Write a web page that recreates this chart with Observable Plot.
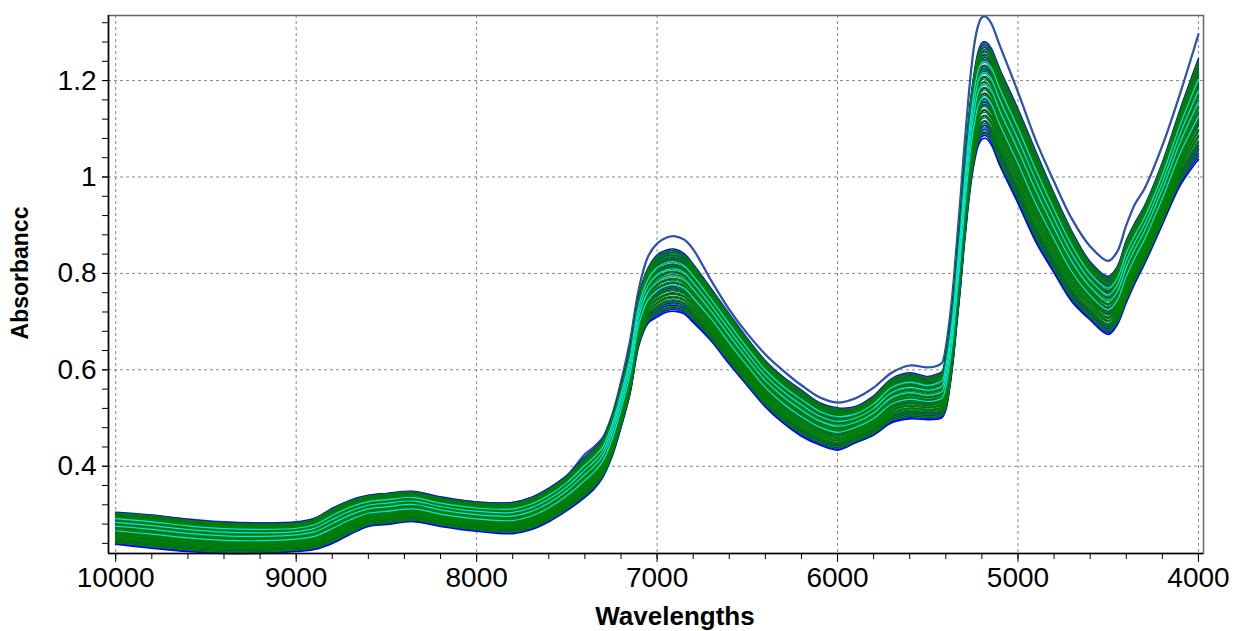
<!DOCTYPE html>
<html>
<head>
<meta charset="utf-8">
<script src="https://cdn.jsdelivr.net/npm/d3@7"></script>
<script src="https://cdn.jsdelivr.net/npm/@observablehq/plot@0.6"></script>
<style>
  html, body { margin: 0; padding: 0; background: #fff; }
  svg { display: block; }
</style>
</head>
<body>
<div id="chart"></div>
<script>
// Wavenumber grid (cm-1)
const wavenumbers = [10000, 9800, 9600, 9400, 9200, 9000, 8900, 8800, 8700, 8600, 8500, 8350, 8200, 8000, 7800, 7700, 7600, 7500, 7400, 7350, 7300, 7250, 7200, 7150, 7100, 7050, 7000, 6950, 6900, 6850, 6800, 6700, 6600, 6500, 6400, 6300, 6200, 6100, 6000, 5900, 5800, 5700, 5600, 5500, 5450, 5420, 5400, 5380, 5360, 5340, 5320, 5300, 5280, 5260, 5240, 5220, 5200, 5180, 5150, 5100, 5000, 4900, 4800, 4700, 4600, 4500, 4450, 4400, 4350, 4300, 4200, 4100, 4000];
// Centre of the bundle of spectra at each wavenumber
const meanAbs = [0.272, 0.265, 0.257, 0.252, 0.251, 0.254, 0.260, 0.277, 0.295, 0.308, 0.312, 0.317, 0.306, 0.296, 0.293, 0.302, 0.320, 0.345, 0.378, 0.395, 0.418, 0.462, 0.525, 0.598, 0.705, 0.755, 0.775, 0.785, 0.787, 0.780, 0.760, 0.715, 0.665, 0.617, 0.572, 0.538, 0.511, 0.489, 0.478, 0.487, 0.506, 0.537, 0.547, 0.542, 0.545, 0.550, 0.575, 0.620, 0.680, 0.760, 0.840, 0.930, 1.010, 1.080, 1.130, 1.165, 1.180, 1.182, 1.170, 1.125, 1.045, 0.960, 0.885, 0.815, 0.765, 0.735, 0.755, 0.805, 0.845, 0.880, 0.967, 1.064, 1.143];
// Half-width of the bundle at each wavenumber
const spreadAbs = [0.032, 0.033, 0.032, 0.031, 0.030, 0.029, 0.031, 0.035, 0.034, 0.031, 0.031, 0.030, 0.029, 0.029, 0.031, 0.032, 0.033, 0.035, 0.040, 0.040, 0.038, 0.040, 0.042, 0.045, 0.050, 0.055, 0.062, 0.062, 0.062, 0.060, 0.058, 0.052, 0.050, 0.047, 0.046, 0.046, 0.046, 0.042, 0.042, 0.036, 0.039, 0.044, 0.046, 0.043, 0.045, 0.046, 0.055, 0.058, 0.060, 0.065, 0.070, 0.075, 0.080, 0.086, 0.090, 0.094, 0.096, 0.096, 0.096, 0.096, 0.094, 0.090, 0.079, 0.070, 0.058, 0.058, 0.058, 0.062, 0.060, 0.058, 0.062, 0.076, 0.100];
// The one spectrum that sits clearly above the bundle (drawn as a blue/green pair)
const outlierAbs = [0.302, 0.297, 0.290, 0.284, 0.282, 0.284, 0.291, 0.310, 0.328, 0.338, 0.342, 0.347, 0.336, 0.325, 0.324, 0.334, 0.354, 0.380, 0.425, 0.440, 0.460, 0.505, 0.575, 0.660, 0.770, 0.835, 0.862, 0.874, 0.877, 0.870, 0.850, 0.785, 0.725, 0.675, 0.632, 0.598, 0.568, 0.543, 0.532, 0.541, 0.563, 0.594, 0.609, 0.605, 0.608, 0.615, 0.647, 0.700, 0.770, 0.860, 0.950, 1.050, 1.140, 1.220, 1.280, 1.315, 1.331, 1.333, 1.320, 1.272, 1.176, 1.075, 0.990, 0.912, 0.856, 0.826, 0.845, 0.900, 0.945, 0.975, 1.065, 1.175, 1.296];
// Position of each sample inside the bundle (read at the peaks), by colour group
const blueScores = [1.02, 0.96, 0.9, 0.82, 0.74, 0.62, 0.5, 0.38, 0.26, 0.14, 0.02, -0.1, -0.22, -0.34, -0.46, -0.58, -0.7, -0.78, -0.86, -0.94, -1.0, -1.06, 0.44, -0.28, 0.68];
const greenScores = [0.98, 0.92, 0.86, 0.8, 0.76, 0.7, 0.64, 0.58, 0.52, 0.46, 0.4, 0.34, 0.28, 0.22, 0.16, 0.1, 0.04, -0.02, -0.08, -0.14, -0.2, -0.26, -0.32, -0.38, -0.44, -0.5, -0.56, -0.62, -0.68, -0.74, -0.82, -0.9, -0.97];
const cyanScores = [0.6, 0.36, 0.12, -0.18];

const groups = [
  {name: "blue", color: "#0000ff", scores: blueScores, width: 1.6},
  {name: "green", color: "#008000", scores: greenScores, width: 1.3},
  {name: "cyan", color: "#00e5e5", scores: cyanScores, width: 1.2}
];

const xMajor = [10000, 9000, 8000, 7000, 6000, 5000, 4000];
const xMinor = d3.range(10000, 3999, -200);
const yMajor = [0.4, 0.6, 0.8, 1.0, 1.2];
const yMinor = [0.24, 0.28, 0.32, 0.36, 0.40, 0.44, 0.48, 0.52, 0.56, 0.60, 0.64, 0.68, 0.72, 0.76, 0.80, 0.84, 0.88, 0.92, 0.96, 1.00, 1.04, 1.08, 1.12, 1.16, 1.20, 1.24, 1.28, 1.32];

const xDomain = [10040, 3972];
const yDomain = [0.219, 1.335];

const lineMarks = groups.map(g => {
  const rows = [];
  g.scores.forEach((s, k) => {
    wavenumbers.forEach((w, i) => {
      rows.push({id: g.name + k, w, a: meanAbs[i] + s * spreadAbs[i]});
    });
  });
  return Plot.line(rows, {x: "w", y: "a", z: "id", stroke: g.color, strokeWidth: g.width, curve: "catmull-rom"});
});
const outlierRows = wavenumbers.map((w, i) => ({w, a: outlierAbs[i]}));

const font = "'Liberation Sans', Arial, sans-serif";
const fmt = d => String(+d.toFixed(2));

const plot = Plot.plot({
  width: 1234,
  height: 631,
  marginLeft: 108,
  marginRight: 31,
  marginTop: 15,
  marginBottom: 78,
  style: {fontFamily: font, background: "#fff", color: "#000"},
  x: {domain: xDomain},
  y: {domain: yDomain},
  marks: [
    Plot.gridX(xMajor, {stroke: "#888", strokeOpacity: 1, strokeDasharray: "3,3"}),
    Plot.gridY(yMajor, {stroke: "#888", strokeOpacity: 1, strokeDasharray: "3,3"}),
    Plot.line(outlierRows, {x: "w", y: "a", stroke: "#3030ff", strokeWidth: 2.2, curve: "catmull-rom"}),
    Plot.line(outlierRows, {x: "w", y: "a", stroke: "#1a8a1a", strokeWidth: 0.8, curve: "catmull-rom"}),
    ...lineMarks,
    Plot.frame({stroke: "#666", strokeWidth: 1.5}),
    Plot.ruleX([xDomain[0]], {stroke: "#000", strokeWidth: 1.5}),
    Plot.ruleY([yDomain[0]], {stroke: "#000", strokeWidth: 1.5}),
    Plot.axisX(xMinor, {tickSize: 6, text: null, label: null, stroke: "#000"}),
    Plot.axisX(xMajor, {tickSize: 9, tickPadding: 5, label: null, fontSize: 28, tickFormat: d => String(d), stroke: "#000"}),
    Plot.axisY(yMinor, {tickSize: 6, text: null, label: null, stroke: "#000"}),
    Plot.axisY(yMajor, {tickSize: 6, tickPadding: 6, label: null, fontSize: 28, tickFormat: fmt, stroke: "#000"})
  ]
});

const svg = d3.select(plot);
svg.append("text")
  .attr("transform", "translate(28,273) rotate(-90)")
  .attr("text-anchor", "middle")
  .attr("font-family", font)
  .attr("font-weight", "bold")
  .attr("font-size", 23)
  .attr("fill", "#000")
  .text("Absorbancc");
svg.append("text")
  .attr("x", 675)
  .attr("y", 625)
  .attr("text-anchor", "middle")
  .attr("font-family", font)
  .attr("font-weight", "bold")
  .attr("font-size", 26)
  .attr("fill", "#000")
  .text("Wavelengths");

document.getElementById("chart").appendChild(plot);
</script>
</body>
</html>
